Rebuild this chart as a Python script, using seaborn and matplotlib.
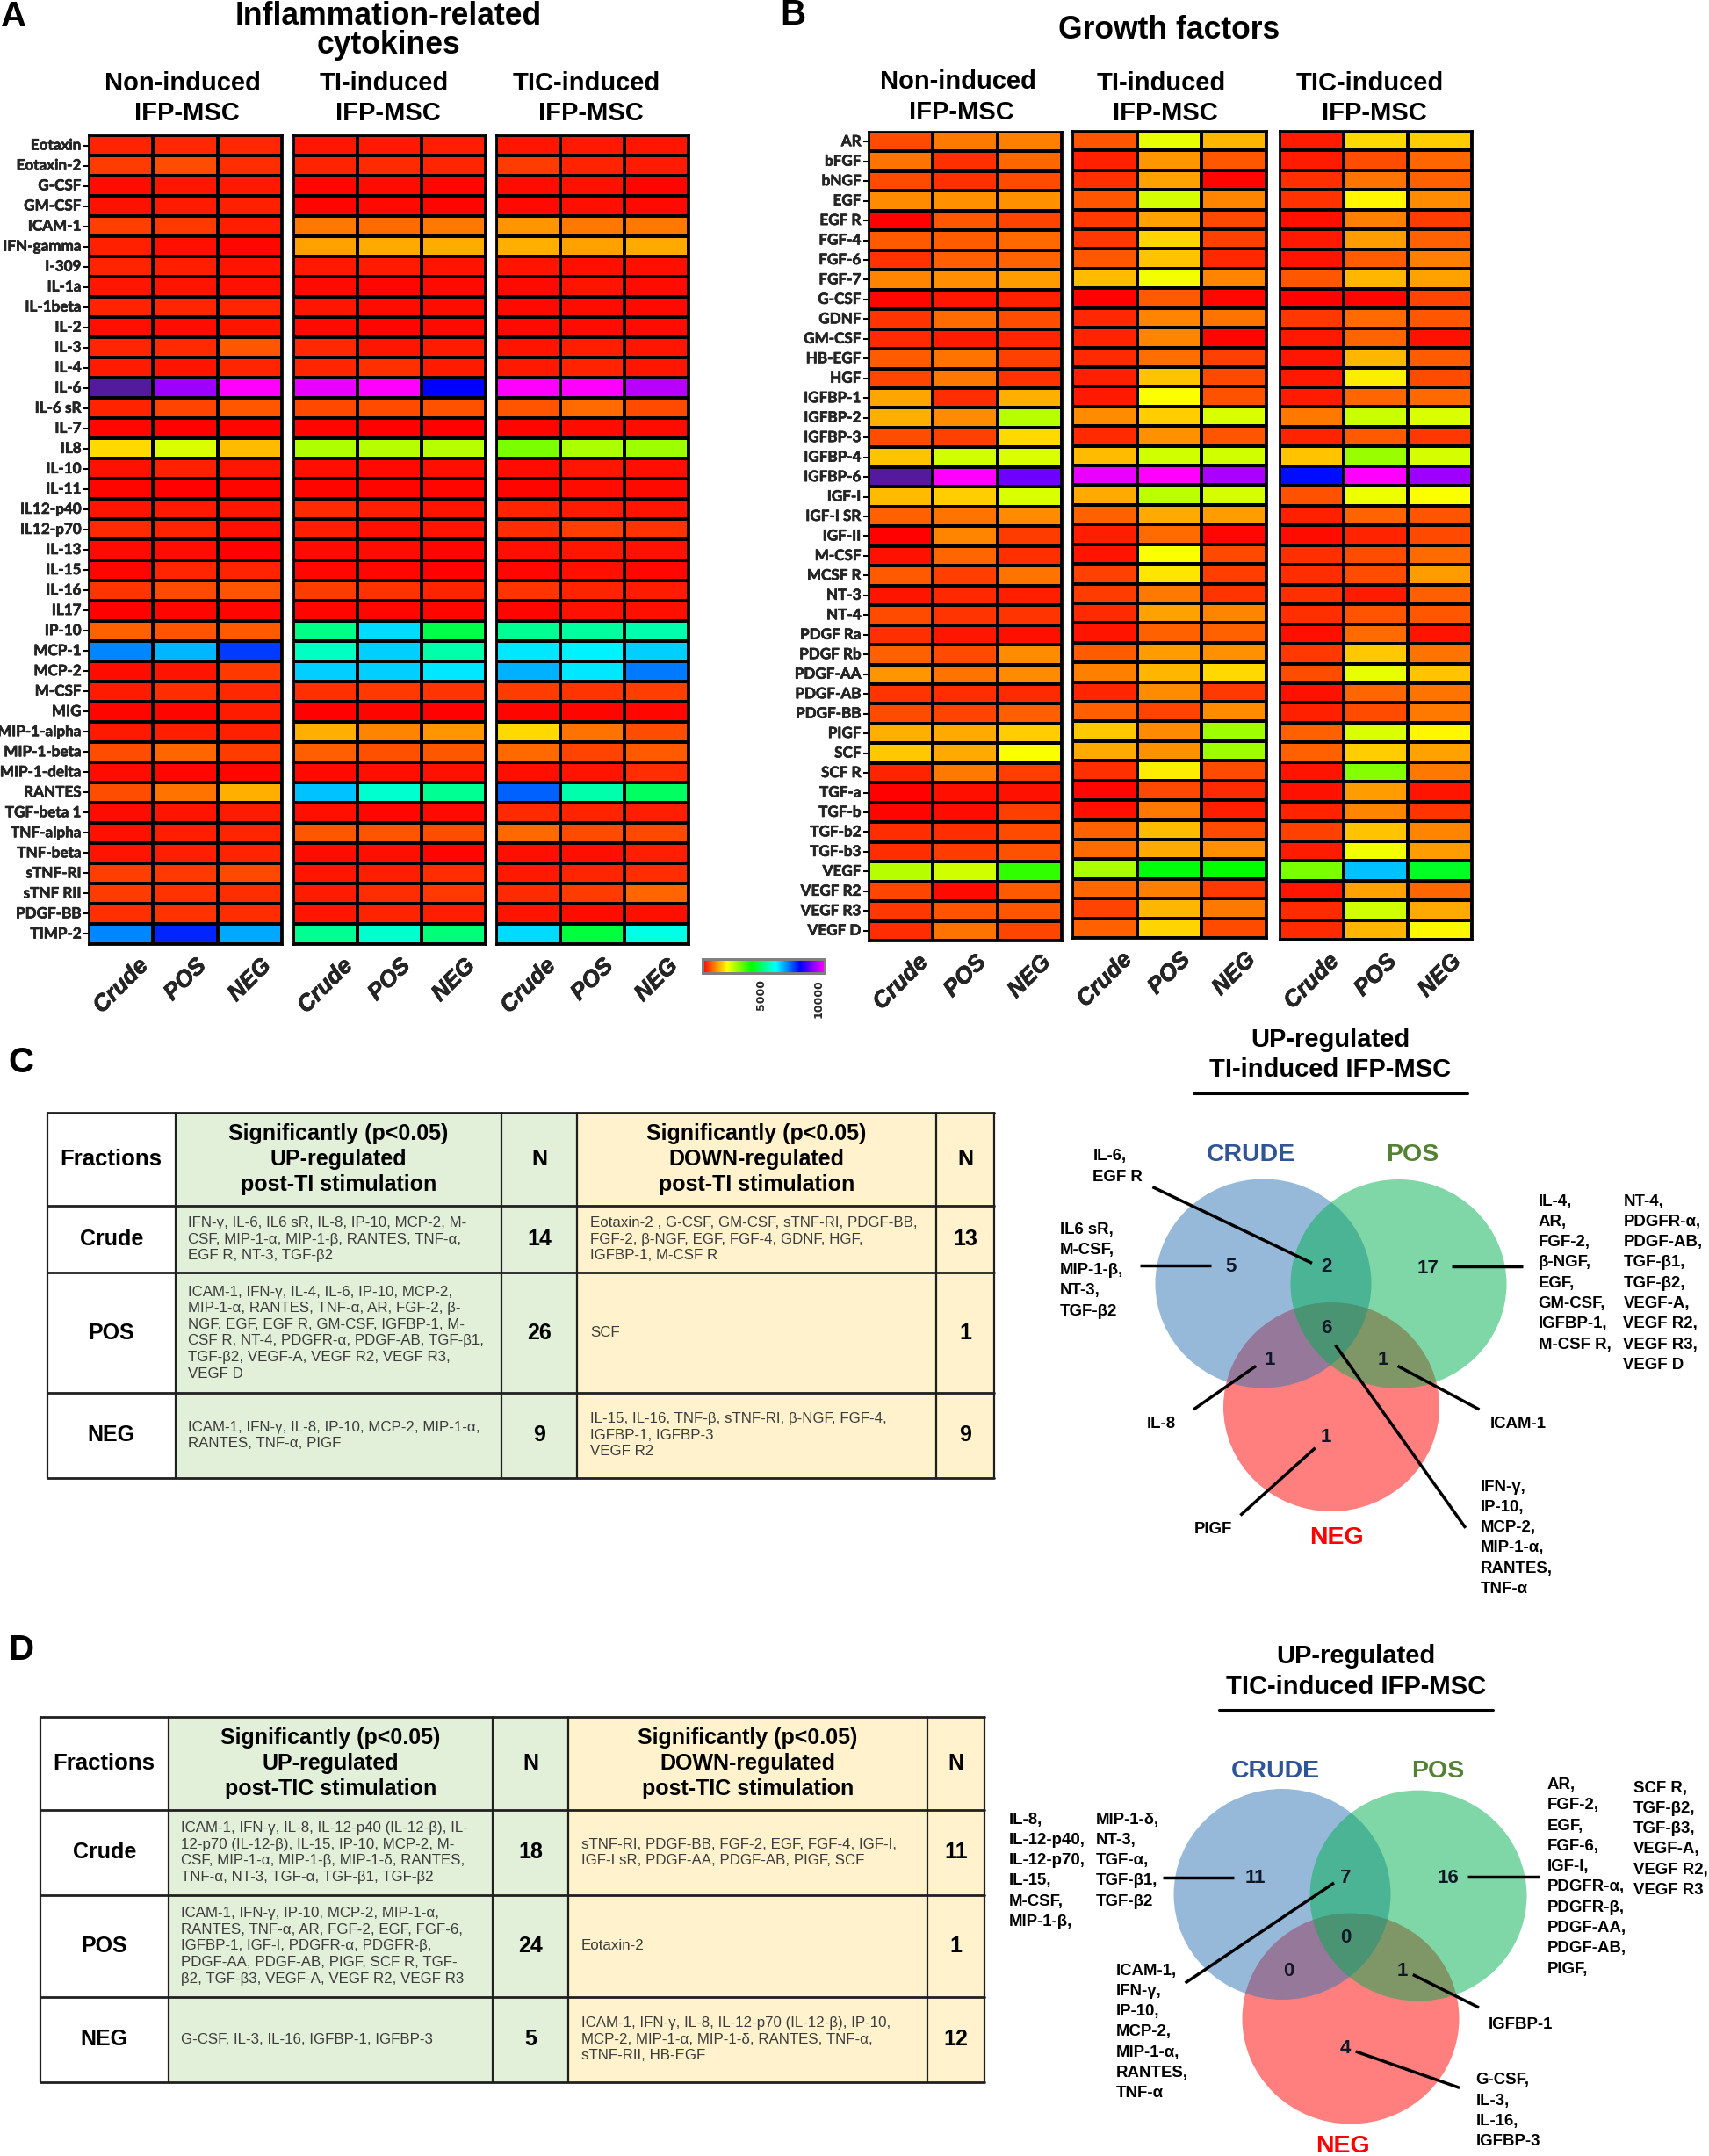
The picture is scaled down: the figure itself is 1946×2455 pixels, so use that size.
import numpy as np
import pandas as pd
import matplotlib
matplotlib.use('Agg')
import matplotlib.pyplot as plt
import matplotlib.patheffects as pe
import seaborn as sns
from matplotlib.colors import LinearSegmentedColormap
from matplotlib.patches import Ellipse, Rectangle

sns.set_theme(style='white')
plt.rcParams['font.family'] = ['Liberation Sans', 'DejaVu Sans']

W, H = 1946, 2455

fractions = ['Crude', 'POS', 'NEG']

cytokines = ['Eotaxin', 'Eotaxin-2', 'G-CSF', 'GM-CSF', 'ICAM-1', 'IFN-gamma', 'I-309', 'IL-1a', 'IL-1beta', 'IL-2',
             'IL-3', 'IL-4', 'IL-6', 'IL-6 sR', 'IL-7', 'IL8', 'IL-10', 'IL-11', 'IL12-p40', 'IL12-p70',
             'IL-13', 'IL-15', 'IL-16', 'IL17', 'IP-10', 'MCP-1', 'MCP-2', 'M-CSF', 'MIG', 'MIP-1-alpha',
             'MIP-1-beta', 'MIP-1-delta', 'RANTES', 'TGF-beta 1', 'TNF-alpha', 'TNF-beta', 'sTNF-RI', 'sTNF RII',
             'PDGF-BB', 'TIMP-2']

cyto_non = [[300, 330, 330], [500, 650, 380], [120, 200, 220], [150, 230, 280], [520, 480, 250],
            [280, 130, 80], [290, 260, 170], [200, 170, 160], [300, 320, 310], [130, 110, 180],
            [320, 350, 720], [240, 170, 310], [11000, 9700, 10500], [300, 560, 720], [70, 40, 50],
            [1800, 2400, 1550], [150, 270, 200], [60, 30, 50], [170, 210, 200], [350, 300, 130],
            [90, 110, 40], [60, 320, 300], [440, 620, 700], [40, 50, 50], [800, 700, 750],
            [7300, 6900, 7900], [120, 170, 480], [240, 380, 330], [60, 60, 230], [220, 250, 280],
            [640, 850, 500], [120, 70, 60], [650, 950, 1450], [120, 180, 240], [150, 260, 310],
            [180, 260, 290], [530, 480, 600], [500, 430, 380], [400, 420, 380], [7300, 8100, 7000]]
cyto_ti = [[200, 220, 260], [300, 360, 320], [70, 110, 70], [60, 100, 60], [1000, 900, 1000],
           [1350, 1400, 1420], [210, 240, 180], [100, 80, 100], [200, 120, 120], [90, 60, 100],
           [340, 200, 240], [320, 400, 230], [10300, 10500, 8400], [600, 620, 680], [50, 40, 40],
           [2750, 2700, 2700], [130, 90, 130], [60, 60, 70], [350, 260, 180], [260, 140, 170],
           [90, 120, 60], [70, 80, 30], [500, 420, 300], [60, 80, 60], [5300, 6600, 4800],
           [5800, 6700, 5600], [6700, 6700, 6500], [400, 480, 440], [40, 50, 40], [1450, 1100, 1250],
           [780, 660, 730], [90, 130, 160], [6800, 5900, 5400], [130, 80, 100], [730, 700, 650],
           [120, 140, 60], [190, 260, 370], [240, 380, 480], [200, 300, 260], [5400, 5900, 5200]]
cyto_tic = [[200, 220, 200], [500, 300, 240], [110, 160, 60], [100, 130, 90], [1250, 1000, 1000],
            [1450, 1350, 1400], [180, 130, 140], [100, 170, 120], [90, 110, 90], [90, 110, 110],
            [170, 250, 190], [210, 290, 200], [10500, 10500, 9900], [700, 900, 620], [50, 110, 110],
            [3200, 2800, 2900], [120, 190, 130], [60, 120, 100], [300, 230, 170], [380, 520, 430],
            [130, 200, 150], [80, 140, 80], [440, 300, 240], [50, 160, 140], [5400, 5500, 5600],
            [6500, 6400, 6700], [6950, 6500, 7400], [500, 450, 520], [60, 50, 70], [1800, 950, 650],
            [880, 560, 750], [130, 170, 380], [7600, 5600, 5000], [350, 300, 250], [880, 620, 600],
            [140, 130, 250], [220, 320, 370], [350, 500, 850], [170, 110, 140], [6600, 4700, 6100]]

growth = ['AR', 'bFGF', 'bNGF', 'EGF', 'EGF R', 'FGF-4', 'FGF-6', 'FGF-7', 'G-CSF', 'GDNF', 'GM-CSF', 'HB-EGF', 'HGF',
          'IGFBP-1', 'IGFBP-2', 'IGFBP-3', 'IGFBP-4', 'IGFBP-6', 'IGF-I', 'IGF-I SR', 'IGF-II', 'M-CSF', 'MCSF R',
          'NT-3', 'NT-4', 'PDGF Ra', 'PDGF Rb', 'PDGF-AA', 'PDGF-AB', 'PDGF-BB', 'PIGF', 'SCF', 'SCF R',
          'TGF-a', 'TGF-b', 'TGF-b2', 'TGF-b3', 'VEGF', 'VEGF R2', 'VEGF R3', 'VEGF D']

growth_non = [[620, 1000, 1050], [950, 400, 850], [620, 400, 620], [1150, 1200, 1200], [40, 720, 560],
              [750, 760, 880], [420, 780, 840], [1100, 1180, 1300], [70, 200, 280], [450, 900, 650],
              [350, 240, 320], [760, 960, 540], [580, 1000, 420], [1370, 380, 1450], [1450, 1150, 2700],
              [640, 540, 1800], [1600, 2500, 2400], [11000, 10500, 9300], [1550, 1700, 2400], [800, 960, 1150],
              [40, 1100, 500], [150, 860, 400], [750, 520, 950], [180, 340, 250], [620, 440, 450],
              [400, 200, 130], [800, 620, 1150], [1250, 950, 1150], [440, 380, 360], [620, 570, 780],
              [1450, 1400, 1700], [1650, 1400, 2150], [300, 1000, 520], [40, 130, 150], [50, 110, 530],
              [370, 370, 620], [380, 500, 690], [2700, 2500, 3800], [580, 90, 750], [470, 700, 720],
              [370, 950, 580]]
growth_ti = [[700, 2300, 1500], [270, 1250, 720], [400, 1350, 50], [700, 2450, 1100], [480, 1350, 600],
             [470, 1750, 550], [720, 1600, 340], [1550, 2200, 1100], [40, 750, 80], [340, 1100, 950],
             [300, 1100, 50], [360, 920, 540], [280, 1600, 600], [220, 2150, 680], [1150, 1700, 2400],
             [360, 1200, 700], [1550, 2500, 2500], [10300, 10500, 9800], [1400, 2650, 2450], [820, 1400, 1300],
             [250, 900, 80], [180, 2150, 600], [550, 1900, 520], [500, 1000, 440], [360, 1350, 1100],
             [180, 820, 800], [770, 1300, 1200], [1050, 1500, 1800], [320, 1150, 490], [780, 570, 1150],
             [1650, 1150, 2900], [1400, 1200, 2900], [400, 1950, 620], [80, 600, 350], [130, 1000, 260],
             [800, 1550, 620], [900, 1400, 1200], [2800, 4300, 4200], [850, 1050, 480], [560, 1500, 1000],
             [800, 1750, 620]]
growth_tic = [[230, 1800, 1700], [240, 650, 850], [400, 950, 800], [420, 2050, 1150], [140, 1050, 500],
              [210, 1300, 800], [180, 760, 1050], [720, 1500, 1350], [30, 60, 560], [460, 900, 720],
              [210, 830, 150], [200, 1500, 770], [210, 1950, 620], [240, 850, 880], [1000, 2550, 2400],
              [300, 740, 460], [1600, 2950, 2450], [8300, 10500, 9700], [680, 2250, 2150], [280, 830, 700],
              [110, 300, 610], [400, 650, 900], [380, 650, 1300], [400, 240, 780], [400, 710, 720],
              [130, 900, 170], [480, 1650, 950], [640, 2300, 1600], [160, 860, 950], [280, 630, 1000],
              [800, 2400, 2050], [800, 1700, 1350], [180, 3100, 1000], [160, 1300, 170], [300, 1100, 440],
              [540, 1600, 1100], [230, 2200, 1300], [3200, 6800, 4500], [190, 1350, 850], [360, 2500, 1400],
              [350, 1500, 2050]]

cbar_ticks = [5000, 10000]

# tables
table_head_c = ['Significantly (p<0.05)\nUP-regulated\npost-TI stimulation', 'Significantly (p<0.05)\nDOWN-regulated\npost-TI stimulation']
table_head_d = ['Significantly (p<0.05)\nUP-regulated\npost-TIC stimulation', 'Significantly (p<0.05)\nDOWN-regulated\npost-TIC stimulation']
c_up = ['IFN-γ, IL-6, IL6 sR, IL-8, IP-10, MCP-2, M-\nCSF, MIP-1-α, MIP-1-β, RANTES, TNF-α,\nEGF R, NT-3, TGF-β2',
        'ICAM-1, IFN-γ, IL-4, IL-6, IP-10, MCP-2,\nMIP-1-α, RANTES, TNF-α, AR, FGF-2, β-\nNGF, EGF, EGF R, GM-CSF, IGFBP-1, M-\nCSF R, NT-4, PDGFR-α, PDGF-AB, TGF-β1,\nTGF-β2, VEGF-A, VEGF R2, VEGF R3,\nVEGF D',
        'ICAM-1, IFN-γ, IL-8, IP-10, MCP-2, MIP-1-α,\nRANTES, TNF-α, PIGF']
c_up_n = ['14', '26', '9']
c_down = ['Eotaxin-2 , G-CSF, GM-CSF, sTNF-RI, PDGF-BB,\nFGF-2, β-NGF, EGF, FGF-4, GDNF, HGF,\nIGFBP-1, M-CSF R',
          'SCF',
          'IL-15, IL-16, TNF-β, sTNF-RI, β-NGF, FGF-4,\nIGFBP-1, IGFBP-3\nVEGF R2']
c_down_n = ['13', '1', '9']
d_up = ['ICAM-1, IFN-γ, IL-8, IL-12-p40 (IL-12-β), IL-\n12-p70 (IL-12-β), IL-15, IP-10, MCP-2, M-\nCSF, MIP-1-α, MIP-1-β, MIP-1-δ, RANTES,\nTNF-α, NT-3, TGF-α, TGF-β1, TGF-β2',
        'ICAM-1, IFN-γ, IP-10, MCP-2, MIP-1-α,\nRANTES, TNF-α, AR, FGF-2, EGF, FGF-6,\nIGFBP-1, IGF-I, PDGFR-α, PDGFR-β,\nPDGF-AA, PDGF-AB, PIGF, SCF R, TGF-\nβ2, TGF-β3, VEGF-A, VEGF R2, VEGF R3',
        'G-CSF, IL-3, IL-16, IGFBP-1, IGFBP-3']
d_up_n = ['18', '24', '5']
d_down = ['sTNF-RI, PDGF-BB, FGF-2, EGF, FGF-4, IGF-I,\nIGF-I sR, PDGF-AA, PDGF-AB, PIGF, SCF',
          'Eotaxin-2',
          'ICAM-1, IFN-γ, IL-8, IL-12-p70 (IL-12-β), IP-10,\nMCP-2, MIP-1-α, MIP-1-δ, RANTES, TNF-α,\nsTNF-RII, HB-EGF']
d_down_n = ['11', '1', '12']

fig = plt.figure(figsize=(W / 100, H / 100), dpi=100)

# overlay in pixel coordinates for everything that is not a heatmap
ov = fig.add_axes([0, 0, 1, 1])
ov.set_xlim(0, W)
ov.set_ylim(H, 0)
ov.axis('off')


def px_axes(x0, y0, x1, y1):
    return fig.add_axes([x0 / W, 1 - y1 / H, (x1 - x0) / W, (y1 - y0) / H])


def txt(x, y, s, size, weight='bold', ha='center', va='center', color='black', **kw):
    ov.text(x, y, s, fontsize=size, fontweight=weight, ha=ha, va=va, color=color, **kw)


cmap = LinearSegmentedColormap.from_list('rainbow_prism', ['#ff0000', '#ffff00', '#00ff00', '#00ffff', '#0000ff', '#ff00ff'], N=512)
cmap.set_over('#55199e')


def draw_heat(box, values, rows, show_y=False, cbar_ax=None):
    ax = px_axes(*box)
    df = pd.DataFrame(values, index=rows, columns=fractions)
    kws = dict(cbar=False)
    if cbar_ax is not None:
        kws = dict(cbar=True, cbar_ax=cbar_ax, cbar_kws={'orientation': 'horizontal', 'ticks': cbar_ticks, 'extend': 'neither'})
    sns.heatmap(df, ax=ax, cmap=cmap, vmin=0, vmax=10500, linewidths=1.5, linecolor='black', **kws)
    for s in ax.spines.values():
        s.set_visible(True)
        s.set_color('black')
        s.set_linewidth(2)
    ax.set_xticklabels(fractions, rotation=45, ha='center', fontsize=19, fontstyle='italic')
    ax.tick_params(axis='x', length=0, pad=9, bottom=False)
    # the rotated labels come out thin, so thicken them a little
    for t in ax.get_xticklabels():
        t.set_fontweight('bold')
        t.set_path_effects([pe.withStroke(linewidth=0.5, foreground='black')])
    if show_y:
        ax.set_yticks(np.arange(len(rows)) + 0.5)
        ax.set_yticklabels(rows, rotation=0, fontsize=12.3, fontweight='bold', family=['Lato', 'Liberation Sans'])
        ax.tick_params(axis='y', left=True, length=4, width=1.5, pad=2, color='black')
        for t in ax.get_yticklabels():
            t.set_path_effects([pe.withStroke(linewidth=0.4, foreground='black')])
    else:
        ax.set_yticks([])
    ax.set_xlabel('')
    ax.set_ylabel('')
    return ax


# colour bar
cb_ax = px_axes(800, 1092, 939, 1108)

# panel A
draw_heat((101, 154, 321, 1075), cyto_non, cytokines, show_y=True, cbar_ax=cb_ax)
draw_heat((334, 154, 553, 1075), cyto_ti, cytokines)
draw_heat((565, 154, 784, 1075), cyto_tic, cytokines)

# panel B
draw_heat((989, 150, 1209, 1071), growth_non, growth, show_y=True)
draw_heat((1221, 149, 1442, 1068), growth_ti, growth)
draw_heat((1457, 149, 1676, 1070), growth_tic, growth)

cb_ax.tick_params(axis='x', length=0, pad=5)
cb_ax.set_xticklabels(['5000', '10000'], rotation=90, fontsize=9, fontweight='bold', family='DejaVu Sans')
for s in cb_ax.spines.values():
    s.set_visible(True)
    s.set_color('#808080')
    s.set_linewidth(2)

txt(16, 19, 'A', 29)
txt(903, 17, 'B', 29)
txt(24, 1210, 'C', 29)
txt(24, 1879, 'D', 29)
txt(442, 35, 'Inflammation-related\ncytokines', 25.6, linespacing=0.9)
txt(1331, 35, 'Growth factors', 25.6)

for x1, x2, y1, y2, label in [(208, 213, 95, 129, 'Non-induced'), (437, 442, 95, 129, 'TI-induced'), (668, 673, 95, 129, 'TIC-induced'),
                              (1091, 1095, 93, 128, 'Non-induced'), (1322, 1327, 95, 129, 'TI-induced'), (1560, 1565, 95, 129, 'TIC-induced')]:
    txt(x1, y1, label, 21)
    txt(x2, y2, 'IFP-MSC', 21)


def draw_table(xs, ys, heads, up, up_n, down, down_n):
    ov.add_patch(Rectangle((xs[1], ys[0]), xs[3] - xs[1], ys[4] - ys[0], fc='#E2EFD9', ec='none'))
    ov.add_patch(Rectangle((xs[3], ys[0]), xs[5] - xs[3], ys[4] - ys[0], fc='#FFF2CC', ec='none'))
    for x in xs:
        ov.plot([x, x], [ys[0], ys[4]], color='#202020', lw=1.6)
    for y in ys:
        ov.plot([xs[0], xs[5]], [y, y], color='#202020', lw=2)
    ym = (ys[0] + ys[1]) / 2
    txt((xs[0] + xs[1]) / 2, ym, 'Fractions', 18.5)
    txt((xs[1] + xs[2]) / 2, ym, heads[0], 18, linespacing=1.27)
    txt((xs[2] + xs[3]) / 2, ym, 'N', 18)
    txt((xs[3] + xs[4]) / 2, ym, heads[1], 18, linespacing=1.27)
    txt((xs[4] + xs[5]) / 2, ym, 'N', 18)
    for i, frac in enumerate(fractions):
        ym = (ys[i + 1] + ys[i + 2]) / 2
        txt((xs[0] + xs[1]) / 2, ym, frac, 18)
        txt(xs[1] + 15, ym, up[i], 12.2, weight='normal', ha='left', color='#3c3c3c', linespacing=1.3)
        txt((xs[2] + xs[3]) / 2, ym, up_n[i], 18)
        txt(xs[3] + 15, ym, down[i], 12.2, weight='normal', ha='left', color='#3c3c3c', linespacing=1.3)
        txt((xs[4] + xs[5]) / 2, ym, down_n[i], 18)


draw_table([54, 199.5, 571, 657, 1066, 1132], [1266.7, 1373.3, 1449.3, 1586, 1682.7], table_head_c, c_up, c_up_n, c_down, c_down_n)
draw_table([46, 191.5, 561, 647, 1056, 1121], [1955.3, 2061, 2157.7, 2274, 2370.7], table_head_d, d_up, d_up_n, d_down, d_down_n)


def draw_venn(centers, rx, ry, label_pos, rule):
    neg, crude, pos = centers
    ov.add_patch(Ellipse(neg, rx * 2, ry * 2, fc='#FF0000', alpha=0.5, ec='none', zorder=2))
    ov.add_patch(Ellipse(crude, rx * 2, ry * 2, fc='#2E75B6', alpha=0.5, ec='none', zorder=3))
    ov.add_patch(Ellipse(pos, rx * 2, ry * 2, fc='#00B050', alpha=0.5, ec='none', zorder=4))
    txt(*label_pos[0], 'CRUDE', 20.5, color='#2F5597')
    txt(*label_pos[1], 'POS', 20.5, color='#548235')
    txt(*label_pos[2], 'NEG', 20.5, color='#FF0000')
    ov.plot(rule[0], rule[1], color='black', lw=2.2, zorder=5)


def venn_nums(nums):
    for x, y, s in nums:
        ov.text(x, y, s, fontsize=16, fontweight='bold', ha='center', va='center', color='#101828', zorder=6)


def venn_lines(lines):
    for (x0, y0), (x1, y1) in lines:
        ov.plot([x0, x1], [y0, y1], color='black', lw=2.5, zorder=5, solid_capstyle='butt')


def venn_list(x, y, items, step=23.3):
    for i, s in enumerate(items):
        txt(x, y + i * step, s, 13.4, ha='left')


# venn C
txt(1514.5, 1184, 'UP-regulated', 21)
txt(1514.5, 1218.5, 'TI-induced IFP-MSC', 21)
draw_venn([(1516, 1602), (1438.5, 1461.5), (1592.5, 1462)], 123, 119,
          [(1424, 1315), (1608, 1315), (1521.6, 1751.5)], ([1359, 1671], [1245, 1245]))
venn_nums([(1402, 1443, '5'), (1510, 1443, '2'), (1626, 1444, '17'), (1510, 1512, '6'),
           (1446, 1548, '1'), (1575, 1548, '1'), (1510, 1636.5, '1')])
venn_lines([((1312.4, 1351.6), (1494, 1438.4)), ((1298, 1441), (1379.4, 1441)), ((1652.5, 1442), (1734, 1442)),
            ((1359, 1605), (1430, 1555.5)), ((1591.6, 1555.5), (1684.5, 1605)), ((1412.4, 1725.5), (1497.7, 1648.7)),
            ((1520.5, 1531.6), (1668.8, 1739.8))])
venn_list(1244.4, 1317, ['IL-6,', 'EGF R'])
venn_list(1207, 1400, ['IL6 sR,', 'M-CSF,', 'MIP-1-β,', 'NT-3,', 'TGF-β2'])
venn_list(1751.5, 1368, ['IL-4,', 'AR,', 'FGF-2,', 'β-NGF,', 'EGF,', 'GM-CSF,', 'IGFBP-1,', 'M-CSF R,'])
venn_list(1848.5, 1368, ['NT-4,', 'PDGFR-α,', 'PDGF-AB,', 'TGF-β1,', 'TGF-β2,', 'VEGF-A,', 'VEGF R2,', 'VEGF R3,', 'VEGF D'])
venn_list(1306, 1621, ['IL-8'])
venn_list(1697, 1621, ['ICAM-1'])
venn_list(1360, 1741, ['PIGF'])
venn_list(1686, 1693, ['IFN-γ,', 'IP-10,', 'MCP-2,', 'MIP-1-α,', 'RANTES,', 'TNF-α'])

# venn D
txt(1543.7, 1886, 'UP-regulated', 21)
txt(1543.7, 1920.6, 'TIC-induced IFP-MSC', 21)
draw_venn([(1538, 2298.5), (1460, 2157), (1615, 2158.6)], 123.5, 120,
          [(1452.6, 2016.7), (1637, 2016.7), (1529, 2444)], ([1387.6, 1700], [1947, 1947]))
venn_nums([(1429, 2138.6, '11'), (1532, 2138.6, '7'), (1649, 2139, '16'), (1532, 2207, '0'),
           (1467, 2244, '0'), (1597, 2244, '1'), (1532, 2333, '4')])
venn_lines([((1323.6, 2137.8), (1404.8, 2137.8)), ((1671, 2137.4), (1753, 2137.4)), ((1519, 2144), (1349.6, 2258)),
            ((1608.8, 2248.5), (1684, 2286)), ((1543.7, 2336), (1662, 2377.4))])
venn_list(1148.7, 2072, ['IL-8,', 'IL-12-p40,', 'IL-12-p70,', 'IL-15,', 'M-CSF,', 'MIP-1-β,'])
venn_list(1247.6, 2072, ['MIP-1-δ,', 'NT-3,', 'TGF-α,', 'TGF-β1,', 'TGF-β2'])
venn_list(1270.5, 2244, ['ICAM-1,', 'IFN-γ,', 'IP-10,', 'MCP-2,', 'MIP-1-α,', 'RANTES,', 'TNF-α'])
venn_list(1762, 2032.5, ['AR,', 'FGF-2,', 'EGF,', 'FGF-6,', 'IGF-I,', 'PDGFR-α,', 'PDGFR-β,', 'PDGF-AA,', 'PDGF-AB,', 'PIGF,'])
venn_list(1859.6, 2036, ['SCF R,', 'TGF-β2,', 'TGF-β3,', 'VEGF-A,', 'VEGF R2,', 'VEGF R3'])
venn_list(1695, 2305, ['IGFBP-1'])
venn_list(1680.6, 2369, ['G-CSF,', 'IL-3,', 'IL-16,', 'IGFBP-3'])

fig.savefig('out.png', dpi=100)
plt.close()
